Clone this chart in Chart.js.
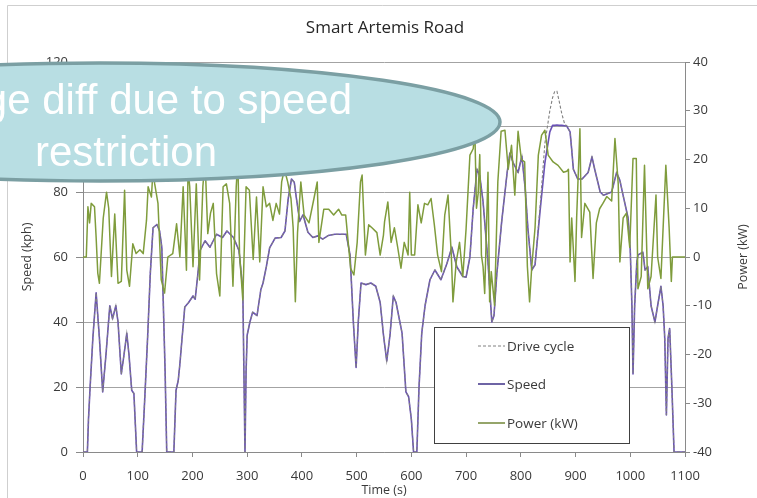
<!DOCTYPE html>
<html>
<head>
<meta charset="utf-8">
<script src="https://cdn.jsdelivr.net/npm/chart.js@4.4.1/dist/chart.umd.min.js"></script>
<style>
  html, body { margin: 0; padding: 0; background: #ffffff; }
  #wrap { width: 757px; height: 498px; position: relative; }
</style>
</head>
<body>
<div id="wrap"><canvas id="c" width="757" height="498"></canvas></div>
<script>
// ---------------- data ----------------
const chartTitle = 'Smart Artemis Road';
const xTitle = 'Time (s)';
const yTitle = 'Speed (kph)';
const y2Title = 'Power (kW)';
const seriesNames = ['Drive cycle', 'Speed', 'Power (kW)'];
const calloutLines = ['Large diff due to speed', 'restriction'];

const speedTime = [0,8,10,13,18,24,30,36,42,49,54,60,64,70,75,80,84,89,93,98,
  108,113,118,123,128,135,140,144,150,153,166,170,174,177,181,186,193,201,205,210,
  214,223,232,244,255,263,275,285,292,296,298,300,305,310,318,325,329,335,341,351,
  362,369,375,381,386,390,396,402,411,420,429,438,448,460,481,488,494,499,503,508,
  517,526,535,543,549,555,561,567,572,583,590,595,600,604,610,614,619,625,634,643,
  654,665,674,683,694,700,707,713,720,725,731,740,747,751,756,765,775,780,786,795,
  802,808,813,820,826,835,844,853,858,862,866,870,875,880,884,890,893,896,904,912,
  923,930,935,945,951,966,975,981,987,996,1000,1003,1005,1008,1012,1014,1023,1027,1032,1038,
  1045,1051,1056,1060,1063,1066,1069,1072,1076,1080,1100];

const speedKph = [0,0,10,20,35,49,35,18.5,30,45,41,45,40,24,30,36.5,30,19,18,0,
  0,17,35,55,69,70,68,63,25,0,0,19,22,27,35,44.6,46,48,47,55,
  62,65,63,67,66,68,66,62,50,0,25,36,40,43,42,50,52,57,62.8,65.8,
  66,68,78,84,83,78,71,73,67.6,66,66.5,65.5,66.6,67,67,60.6,40,26,40,52,
  51.5,52,51,46,36,28,36,48,46,36.6,18.5,17,10,0,0,20,36.6,45,53,56,
  53,58,63,57,54,53.8,60,75,87,85,77,58.5,40,42,54.5,70.8,86,92,89,86,
  91,81,68.6,56,57.6,73.8,89,98.5,100.5,100.5,100.6,100.5,100.5,100.4,100.3,98.5,93,87,84,84,
  86,90.8,87,80,79,80,86,83.6,78.9,72,62,45,24,45,58.5,60.6,61.5,56,57,45,
  40,46,51,45,35,11.4,35,38,20,0,0];

const driveCycleKph = [0,0,10,20,35,49,35,18.5,30,45,41,45,40,24,30,36.5,30,19,18,0,
  0,17,35,55,69,70,68,63,25,0,0,19,22,27,35,44.6,46,48,47,55,
  62,65,63,67,66,68,66,62,50,0,25,36,40,43,42,50,52,57,62.8,65.8,
  66,68,78,84,83,78,71,73,67.6,66,66.5,65.5,66.6,67,67,60.6,40,26,40,52,
  51.5,52,51,46,36,28,36,48,46,36.6,18.5,17,10,0,0,20,36.6,45,53,56,
  53,58,63,57,54,53.8,60,75,87,85,77,58.5,40,42,54.5,70.8,86,92,89,86,
  91,81,68.6,56,57.6,75,95,105,109,111,111,108,104,101,100.3,98.5,93,87,84,84,
  86,90.8,87,80,79,80,86,83.6,78.9,72,62,45,24,45,58.5,60.6,61.5,56,57,45,
  40,46,51,45,35,11.4,35,38,20,0,0];

const powerTime = [
  0,6,9,12,15,21,24,27,30,37,
  43,47,52,58,64,70,76,80,85,91,
  97,104,110,116,119,125,128,131,137,143,
  149,155,164,171,177,183,186,189,192,195,
  201,207,213,219,223,228,233,238,244,250,
  256,262,268,274,280,283,286,292,298,304,
  311,317,323,329,335,341,347,353,359,363,
  368,374,380,384,388,392,398,404,413,422,
  428,431,440,449,458,467,473,480,489,495,
  501,507,510,516,522,528,537,543,549,551,
  557,563,569,575,581,587,594,597,600,606,
  612,618,624,630,636,642,648,655,661,667,
  673,676,682,688,694,700,707,713,716,719,
  722,725,728,731,734,740,743,746,752,758,
  764,771,777,783,789,795,801,807,812,816,
  820,826,832,838,844,850,859,868,878,884,
  887,890,893,899,902,908,911,917,926,932,
  938,944,950,957,966,972,978,981,987,993,
  999,1005,1011,1014,1020,1026,1032,1038,1047,1050,
  1056,1065,1071,1075,1077,1100];

const powerKW = [
  0,0,10.3,7,11,10.3,4,-3.3,-5.4,8,
  13.3,10,-4,8.8,-5.4,-5,13.7,-2.7,-6,2.7,
  0.7,1.5,0.7,7.5,14.4,12.3,18,15,11,-4.7,
  -7.4,0,0.7,6.8,0,14.4,6,-2.7,18,14.4,
  -2,15,-4.7,14.4,20,4.8,9,11,-3.4,-8,
  14.4,15,11,-6,14.4,20,0.7,-8.8,14.4,13.7,
  -0.5,12.3,-1,14.4,10.3,11,7.5,11,8.8,15.4,
  18,15.4,12,6,-9.2,5,15.4,8.6,7,12,
  15.4,3,9.8,9.8,8.6,9.8,8.6,8.6,-2.3,-3.7,
  3,15.4,16.8,0.4,6.6,6,5,0.4,4.5,7.2,
  11.3,3,6,2,-2.3,3,0.4,13.3,0.4,0.4,
  10.7,7,11,10.7,12,6.6,0.4,-3,8.6,12.7,
  0.4,-9.2,-1,3,-4,5.8,20.9,22.2,25.8,10,
  13,21,0.4,-2,-7.5,17.4,-9.2,-3,-9.9,15.4,
  25.8,26,18,22.9,12.7,25.8,20,19.5,-2,-9.2,
  -2,6,20.9,25,26,20.9,19.5,18.8,17.4,17.6,
  18,-1,8,-5,8,26.3,4,11,9.2,-4.4,
  7,9.9,11,12.4,11.5,24.3,15,-1,8,9,
  2,20.2,20.2,-6.5,-4,18.8,-6.5,-4,12.7,0,
  -4.4,18.8,6,-5,0,0];

const xTicks = {min: 0, max: 1100, step: 100};
const yTicks = {min: 0, max: 120, step: 20};
const y2Ticks = {min: -40, max: 40, step: 10};

// ---------------- styles ----------------
const COL_SPEED = '#6a52b6';
const COL_DRIVE = '#808080';
const COL_POWER = '#7f9c3c';
const TXT = '#3a3a3a';
const FONT = '"Open Sans", "DejaVu Sans", sans-serif';

function pts(xs, ys) { return xs.map((t, i) => ({x: t, y: ys[i]})); }
function plain(v) { return String(v); }

const decor = {
  id: 'decor',
  beforeDraw(chart) {
    const ctx = chart.ctx;
    ctx.save();
    ctx.fillStyle = '#ffffff';
    ctx.fillRect(0, 0, chart.width, chart.height);
    ctx.strokeStyle = '#cfcfcf';
    ctx.lineWidth = 1;
    ctx.beginPath();
    ctx.moveTo(7.5, 498); ctx.lineTo(7.5, 5.5); ctx.lineTo(757, 5.5);
    ctx.stroke();
    ctx.restore();
  },
  afterDraw(chart) {
    const ctx = chart.ctx;
    const a = chart.chartArea;
    ctx.save();
    // chart title
    ctx.fillStyle = '#262626';
    ctx.font = '17px ' + FONT;
    ctx.textAlign = 'center';
    ctx.textBaseline = 'middle';
    ctx.fillText(chartTitle, 385, 28);
    // axis titles
    ctx.font = '12.5px ' + FONT;
    ctx.fillStyle = TXT;
    ctx.fillText(xTitle, (a.left + a.right) / 2, 490);
    ctx.save();
    ctx.translate(27, (a.top + a.bottom) / 2);
    ctx.rotate(-Math.PI / 2);
    ctx.fillText(yTitle, 0, 0);
    ctx.restore();
    ctx.save();
    ctx.translate(743, (a.top + a.bottom) / 2);
    ctx.rotate(-Math.PI / 2);
    ctx.fillText(y2Title, 0, 0);
    ctx.restore();

    // legend box
    ctx.fillStyle = '#ffffff';
    ctx.fillRect(434, 327, 195, 116);
    ctx.strokeStyle = '#404040';
    ctx.lineWidth = 1;
    ctx.strokeRect(434.5, 327.5, 195, 116);
    const rows = [346, 384, 423];
    const cols = [COL_DRIVE, '#4a3d8f', '#7a8f45'];
    const dashes = [[3, 2], [], []];
    const widths = [1, 1.6, 1.6];
    ctx.font = '13.5px ' + FONT;
    ctx.textAlign = 'left';
    ctx.textBaseline = 'middle';
    for (let i = 0; i < 3; i++) {
      ctx.beginPath();
      ctx.setLineDash(dashes[i]);
      ctx.strokeStyle = cols[i];
      ctx.lineWidth = widths[i];
      ctx.moveTo(478, rows[i]);
      ctx.lineTo(505, rows[i]);
      ctx.stroke();
      ctx.setLineDash([]);
      ctx.fillStyle = TXT;
      ctx.fillText(seriesNames[i], 507, rows[i] + 1);
    }

    // callout ellipse
    ctx.beginPath();
    ctx.ellipse(100, 122, 400, 59, 0, 0, Math.PI * 2);
    ctx.fillStyle = '#b8dee3';
    ctx.fill();
    ctx.lineWidth = 3.5;
    ctx.strokeStyle = '#7b9fa3';
    ctx.stroke();
    ctx.fillStyle = '#ffffff';
    ctx.font = '42px "Liberation Sans", Arial, sans-serif';
    ctx.textBaseline = 'alphabetic';
    ctx.textAlign = 'right';
    ctx.fillText(calloutLines[0], 352, 114);
    ctx.textAlign = 'left';
    ctx.fillText(calloutLines[1], 35, 166);
    ctx.restore();
  }
};

const tickFont = {family: FONT, size: 13};

new Chart(document.getElementById('c'), {
  type: 'line',
  data: {
    datasets: [
      {
        label: seriesNames[2], data: pts(powerTime, powerKW), yAxisID: 'y1',
        borderColor: COL_POWER, borderWidth: 1.5, pointRadius: 0, tension: 0,
        borderJoinStyle: 'round'
      },
      {
        label: seriesNames[0], data: pts(speedTime, driveCycleKph), yAxisID: 'y',
        borderColor: COL_DRIVE, borderWidth: 1.1, borderDash: [3, 2], pointRadius: 0, tension: 0
      },
      {
        label: seriesNames[1], data: pts(speedTime, speedKph), yAxisID: 'y',
        borderColor: COL_SPEED, borderWidth: 1.6, pointRadius: 0, tension: 0,
        borderJoinStyle: 'round'
      }
    ]
  },
  options: {
    responsive: false,
    animation: false,
    devicePixelRatio: 1,
    layout: {padding: {top: 62, left: 0, right: 0, bottom: 0}},
    plugins: {legend: {display: false}, tooltip: {enabled: false}, title: {display: false}},
    scales: {
      x: {
        type: 'linear', min: xTicks.min, max: xTicks.max,
        ticks: {stepSize: xTicks.step, autoSkip: false, maxRotation: 0, color: TXT, font: tickFont, padding: 11, callback: plain},
        grid: {drawOnChartArea: false, drawTicks: true, tickLength: 5, color: '#8a8a8a'},
        border: {display: true, color: '#8a8a8a'},
        afterFit(s) { s.height = 46; }
      },
      y: {
        position: 'left', min: yTicks.min, max: yTicks.max,
        ticks: {stepSize: yTicks.step, color: TXT, font: tickFont, padding: 8, callback: plain},
        grid: {color: '#a3a3a3', tickLength: 7, tickColor: '#8a8a8a'},
        border: {display: true, color: '#8a8a8a'},
        afterFit(s) { s.width = 83; }
      },
      y1: {
        position: 'right', min: y2Ticks.min, max: y2Ticks.max,
        ticks: {stepSize: y2Ticks.step, color: TXT, font: tickFont, padding: 3, callback: plain},
        grid: {drawOnChartArea: false, tickLength: 5, color: '#8a8a8a'},
        border: {display: true, color: '#8a8a8a'},
        afterFit(s) { s.width = 72; }
      }
    }
  },
  plugins: [decor]
});
</script>
</body>
</html>
